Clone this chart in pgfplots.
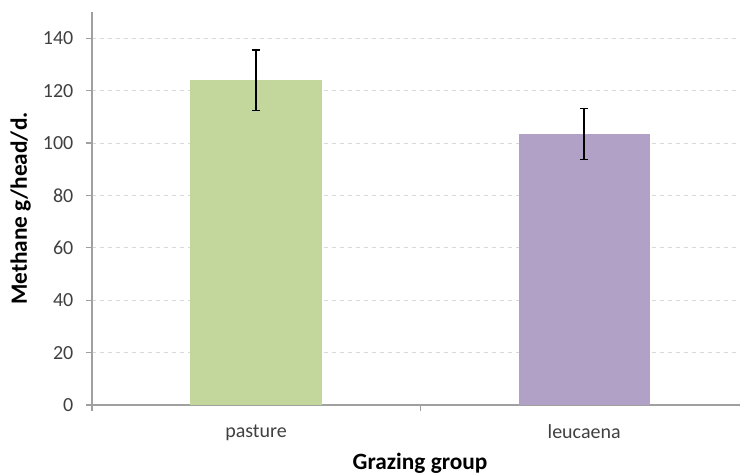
\documentclass[border=0pt]{standalone}
\usepackage{pgfplots}
\pgfplotsset{compat=1.18}
\usepackage{fontspec}
\setmainfont{Carlito}
\definecolor{pastureC}{HTML}{C3D69B}
\definecolor{leucC}{HTML}{B2A1C7}
\definecolor{axisgray}{HTML}{A0A0A0}
\definecolor{gridgray}{HTML}{D9D9D9}
\definecolor{txt}{HTML}{404040}
\begin{document}
\begin{tikzpicture}
\begin{axis}[name=ax, scale only axis, width=486pt, height=294.75pt,
  xmin=-0.5, xmax=1.475, ymin=0, ymax=150,
  ytick={0,20,...,140},
  xtick={-0.5,0.5}, xticklabels={,},
  extra x ticks={0,1}, extra x tick labels={pasture,leucaena},
  extra x tick style={major tick length=0pt, grid=none},
  axis lines=left, axis line style={-, axisgray, line width=0.8pt},
  tick style={axisgray, line width=0.8pt}, tick align=outside, major tick length=4.5pt,
  ymajorgrids, grid style={dashed, gridgray, line width=0.6pt},
  tick label style={font=\fontsize{15}{18}\selectfont, color=txt},
  yticklabel style={xshift=-6pt},
  xticklabel style={yshift=-11pt},
  /pgf/number format/assume math mode=true,
  xlabel={Grazing group}, ylabel={Methane g/head/d.},
  label style={font=\fontsize{17.5}{20}\selectfont\bfseries, color=black},
  xlabel style={at={(axis description cs:0.5063,-0.1476)}, anchor=center},
  ylabel style={at={(axis description cs:-0.110,0.5)}, anchor=center, rotate=0},
  clip=false,
]
\addplot[ybar, bar width=0.4, bar shift=0pt, fill=pastureC, draw=none,
  error bars/.cd, y dir=both, y explicit,
  error bar style={draw=black, line width=1.1pt},
  error mark options={rotate=90, mark size=3pt, draw=black, line width=1.1pt}]
  coordinates {(0,124) +- (0,11.5)};
\addplot[ybar, bar width=0.4, bar shift=0pt, fill=leucC, draw=none,
  error bars/.cd, y dir=both, y explicit,
  error bar style={draw=black, line width=1.1pt},
  error mark options={rotate=90, mark size=3pt, draw=black, line width=1.1pt}]
  coordinates {(1,103.5) +- (0,9.7)};
\end{axis}
\pgfresetboundingbox
\path[use as bounding box] ([shift={(-69pt,-52.5pt)}]ax.south west) rectangle ([shift={(0pt,9pt)}]ax.north east);
\end{tikzpicture}
\end{document}
